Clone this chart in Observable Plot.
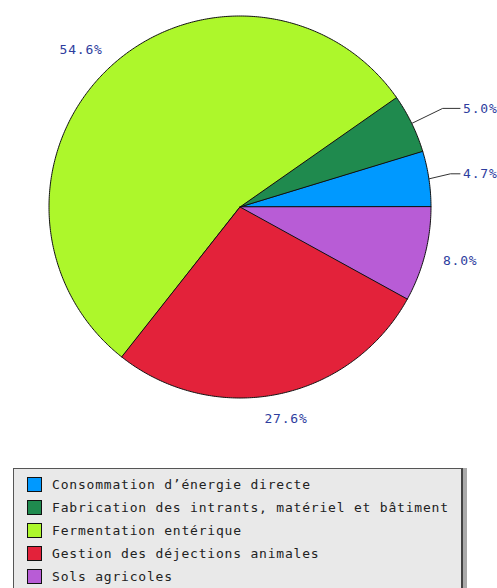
<!DOCTYPE html>
<html>
<head>
<meta charset="utf-8">
<script src="https://cdn.jsdelivr.net/npm/d3@7"></script>
<script src="https://cdn.jsdelivr.net/npm/@observablehq/plot@0.6"></script>
<style>
  html, body { margin: 0; padding: 0; background: #fff; }
  #chart svg { display: block; }
  #legend {
    margin: 8px 0 0 13px; width: 447px; height: 140px; position: relative;
    background: #e9e9e9; border: 1px solid #555; border-right: 2px solid #444;
    box-shadow: 4px 0 0 #aaa;
    font-family: "DejaVu Sans Mono", monospace; font-size: 13px; letter-spacing: 0.8px; color: #222;
  }
  .row { position: absolute; left: 13px; height: 15px; display: flex; align-items: center; white-space: nowrap; }
  .sw { width: 13px; height: 13px; border: 1px solid #111; margin-right: 10px; flex: none; }
</style>
</head>
<body>
<div id="chart"></div>
<div id="legend"></div>
<script>
const categories = [
  "Consommation d\u2019\u00e9nergie directe",
  "Fabrication des intrants, mat\u00e9riel et b\u00e2timent",
  "Fermentation ent\u00e9rique",
  "Gestion des d\u00e9jections animales",
  "Sols agricoles"
];
const values = [4.7, 5.0, 54.6, 27.6, 8.0];
const labels = ["4.7%", "5.0%", "54.6%", "27.6%", "8.0%"];
const colors = ["#0099ff", "#1f8a4e", "#adf72b", "#e3223a", "#b85cd6"];
const guided = [true, true, false, false, false];

const total = d3.sum(values);
const R = 191;
let acc = 0;
const slices = values.map((v, i) => {
  const a0 = acc / total * 2 * Math.PI;
  acc += v;
  const a1 = acc / total * 2 * Math.PI;
  return {cat: categories[i], a0, a1, mid: (a0 + a1) / 2, label: labels[i], guided: guided[i]};
});

const pts = [];
for (const s of slices) {
  pts.push({cat: s.cat, x: 0, y: 0});
  const n = Math.max(2, Math.ceil((s.a1 - s.a0) / 0.01));
  for (let k = 0; k <= n; k++) {
    const a = s.a0 + (s.a1 - s.a0) * k / n;
    pts.push({cat: s.cat, x: Math.cos(a), y: Math.sin(a)});
  }
}

const lh = 12 / R;
const midTexts = [];
const startTexts = [];
const guideLines = [];
const endX = 220 / R;
for (const s of slices) {
  const c = Math.cos(s.mid), sn = Math.sin(s.mid);
  if (!s.guided) {
    const lw = s.label.length * 8.6 / R;
    midTexts.push({x: 1.1 * c + lw / 2 * c, y: 1.1 * sn + lh / 2 * sn, t: s.label});
  } else {
    const ly = 1.18 * sn;
    const elx = Math.min(c + (ly - sn) / Math.tan(s.mid), endX - 0.05);
    guideLines.push({g: s.label, x: c, y: sn}, {g: s.label, x: elx, y: ly}, {g: s.label, x: endX, y: ly});
    startTexts.push({x: endX + 3 / R, y: ly, t: s.label});
  }
}

const cx = 239.5, cy = 206.5;
const plot = Plot.plot({
  width: 497, height: 460, margin: 0,
  x: {domain: [-1, 1], range: [cx - R, cx + R], axis: null},
  y: {domain: [-1, 1], range: [cy + R, cy - R], axis: null},
  color: {domain: categories, range: colors},
  style: {fontFamily: "DejaVu Sans Mono, monospace"},
  marks: [
    Plot.line(pts, {x: "x", y: "y", z: "cat", fill: "cat", stroke: "#111", strokeWidth: 1, curve: "linear-closed"}),
    Plot.line(guideLines, {x: "x", y: "y", z: "g", stroke: "#333", strokeWidth: 1}),
    Plot.text(midTexts, {x: "x", y: "y", text: "t", textAnchor: "middle", fill: "#2e3d9e", fontSize: 13}),
    Plot.text(startTexts, {x: "x", y: "y", text: "t", textAnchor: "start", fill: "#2e3d9e", fontSize: 13})
  ]
});
plot.querySelectorAll("text").forEach(t => t.setAttribute("letter-spacing", "0.8"));
document.getElementById("chart").appendChild(plot);

const legend = document.getElementById("legend");
categories.forEach((c, i) => {
  const row = document.createElement("div");
  row.className = "row";
  row.style.top = (8 + i * 23) + "px";
  const sw = document.createElement("div");
  sw.className = "sw";
  sw.style.background = colors[i];
  const tx = document.createElement("span");
  tx.textContent = c;
  row.appendChild(sw); row.appendChild(tx);
  legend.appendChild(row);
});
</script>
</body>
</html>
